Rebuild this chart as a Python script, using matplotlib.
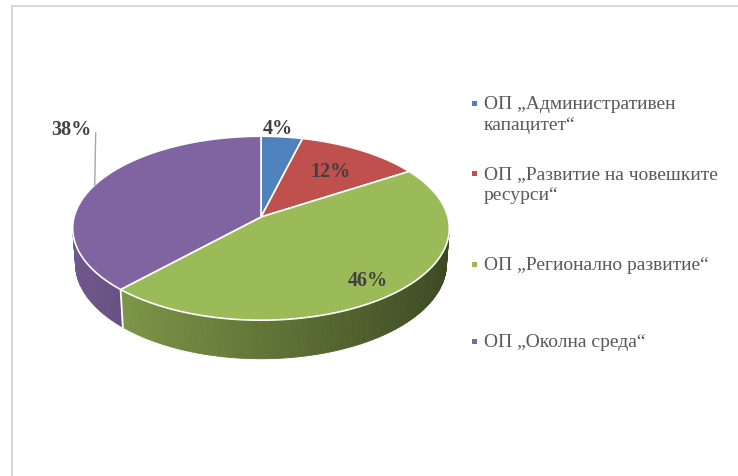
import numpy as np
import matplotlib.pyplot as plt
from matplotlib.patches import Polygon, Rectangle
from matplotlib.lines import Line2D
from matplotlib.colors import to_rgb

plt.rcParams['font.family'] = ['Liberation Serif', 'DejaVu Serif']

# данни
categories = ['ОП „Административен\nкапацитет“',
              'ОП „Развитие на човешките\nресурси“',
              'ОП „Регионално развитие“',
              'ОП „Околна среда“']
shares = [4, 12, 46, 38]
labels = ['4%', '12%', '46%', '38%']
colors = ['#4F81BD', '#C0504D', '#9BBB59', '#8064A2']

W, H = 738, 477
fig = plt.figure(figsize=(W / 100, H / 100), dpi=100)
ax = fig.add_axes([0, 0, 1, 1])
ax.set_xlim(0, W)
ax.set_ylim(H, 0)
ax.axis('off')

# 3D изглед (перспектива)
CX, CY = 261, 218
TILT = np.radians(29)
DIST = 7.17
FOC = 1340
HEIGHT = 0.22


def proj(x, z, y=0.0):
    depth = DIST + z * np.cos(TILT) - y * np.sin(TILT)
    up = z * np.sin(TILT) + y * np.cos(TILT)
    return CX + FOC * x / depth, CY - FOC * up / depth


def rim(phi, r=1.0, y=0.0):
    return proj(r * np.cos(phi), r * np.sin(phi), y)


fr = np.array(shares) / sum(shares)
bounds = np.pi / 2 - 2 * np.pi * np.concatenate([[0], np.cumsum(fr)])

# видима част на страничната стена
lim = np.arcsin(1 / (DIST * np.cos(TILT)))
vis_lo, vis_hi = -np.pi + lim, -lim

for i, col in enumerate(colors):
    start, end = bounds[i], bounds[i + 1]
    lo, hi = max(end, vis_lo), min(start, vis_hi)
    if lo >= hi:
        continue
    base = np.array(to_rgb(col))
    phis = np.linspace(lo, hi, max(int(np.degrees(hi - lo)), 2) + 1)
    for a, b in zip(phis[:-1], phis[1:]):
        pts = [rim(a), rim(b), rim(b, y=-HEIGHT), rim(a, y=-HEIGHT)]
        shade = 0.63 - 0.25 * np.cos((a + b) / 2)
        c = np.clip(base * shade, 0, 1)
        ax.add_patch(Polygon(pts, closed=True, facecolor=c, edgecolor=c,
                             linewidth=0.6, zorder=1))

# бели линии между стените
for bnd in bounds[1:-1]:
    ang = (bnd + np.pi) % (2 * np.pi) - np.pi
    if vis_lo < ang < vis_hi:
        x0, y0 = rim(ang)
        x1, y1 = rim(ang, y=-HEIGHT)
        ax.add_line(Line2D([x0, x1], [y0, y1], color='white', lw=1.3, zorder=2))

# горна повърхност
for i, col in enumerate(colors):
    start, end = bounds[i], bounds[i + 1]
    phis = np.linspace(start, end, 200)
    arc = [rim(p) for p in phis]
    ax.add_patch(Polygon([proj(0, 0)] + arc, closed=True, facecolor=col,
                         edgecolor='white', linewidth=1.2, joinstyle='round',
                         zorder=3))

# етикети
label_r = [1.13, 0.67, 0.83]
label_dx = [-6, 0, 0]
for i in range(3):
    mid = (bounds[i] + bounds[i + 1]) / 2
    lx, ly = rim(mid, r=label_r[i])
    ax.text(lx + label_dx[i], ly, labels[i], ha='center', va='center',
            fontsize=14.5, fontweight='bold', color='#404040', zorder=5)

mid = (bounds[3] + bounds[4]) / 2
ex, ey = rim(mid)
ax.add_line(Line2D([ex, ex + 1], [ey, 134], color='#A6A6A6', lw=1, zorder=4))
ax.text(ex - 3, 130, labels[3], ha='right', va='center',
        fontsize=14.5, fontweight='bold', color='#404040', zorder=5)

# легенда
leg_y = [102, 172, 263, 340]
for col, cat, y in zip(colors, categories, leg_y):
    ax.add_patch(Rectangle((472, y), 5, 5, facecolor=col, edgecolor='none'))
    for k, line in enumerate(cat.split('\n')):
        ax.text(484, y + 7 + k * 21, line, ha='left', va='baseline',
                fontsize=14, color='#595959')

# рамка
ax.add_line(Line2D([12, W], [7, 7], color='#D9D9D9', lw=1.5))
ax.add_line(Line2D([12, 12], [7, H], color='#D9D9D9', lw=1.5))

fig.savefig('out.png', dpi=100)
